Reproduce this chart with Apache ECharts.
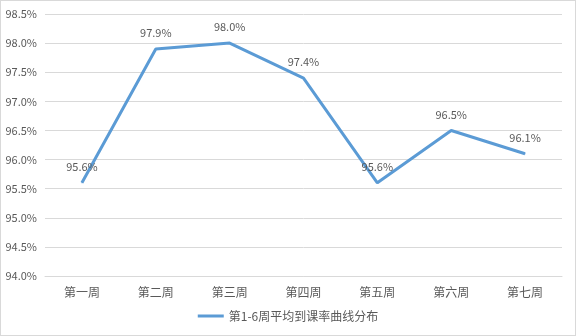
<!DOCTYPE html>
<html><head><meta charset="utf-8">
<script src="https://cdn.jsdelivr.net/npm/echarts@6/dist/echarts.min.js"></script>
<style>html,body{margin:0;padding:0;background:#fff}#c{width:576px;height:336px;box-sizing:border-box;border:1px solid #d9d9d9}</style>
</head><body><div id="c"></div>
<script>
var categories = ['第一周','第二周','第三周','第四周','第五周','第六周','第七周'];
var values = [95.6, 97.9, 98.0, 97.4, 95.6, 96.5, 96.1];
var seriesName = '第1-6周平均到课率曲线分布';
var chart = echarts.init(document.getElementById('c'));
chart.setOption({
  animation:false,
  textStyle:{fontFamily:'Noto Sans CJK SC, sans-serif'},
  grid:{left:44,right:13,top:13,bottom:59},
  legend:{bottom:8,itemWidth:26,itemHeight:3,icon:'rect',textStyle:{color:'#595959',fontSize:12},data:[seriesName]},
  xAxis:{type:'category',data:categories,boundaryGap:true,
    axisLine:{lineStyle:{color:'#d9d9d9'}},axisTick:{show:false},
    axisLabel:{color:'#595959',fontSize:12,margin:10}},
  yAxis:{type:'value',min:94,max:98.5,interval:0.5,
    axisLine:{show:false},axisTick:{show:false},
    splitLine:{lineStyle:{color:'#d9d9d9'}},
    axisLabel:{color:'#595959',fontSize:11,margin:8,formatter:function(v){return v.toFixed(1)+'%';}}},
  series:[{name:seriesName,type:'line',data:values,symbol:'circle',symbolSize:1,showSymbol:true,
    lineStyle:{color:'#5b9bd5',width:3},itemStyle:{color:'#5b9bd5'},
    label:{show:true,position:'top',distance:10,color:'#595959',fontSize:11,formatter:function(p){return p.value.toFixed(1)+'%';}}}]
});
</script></body></html>
